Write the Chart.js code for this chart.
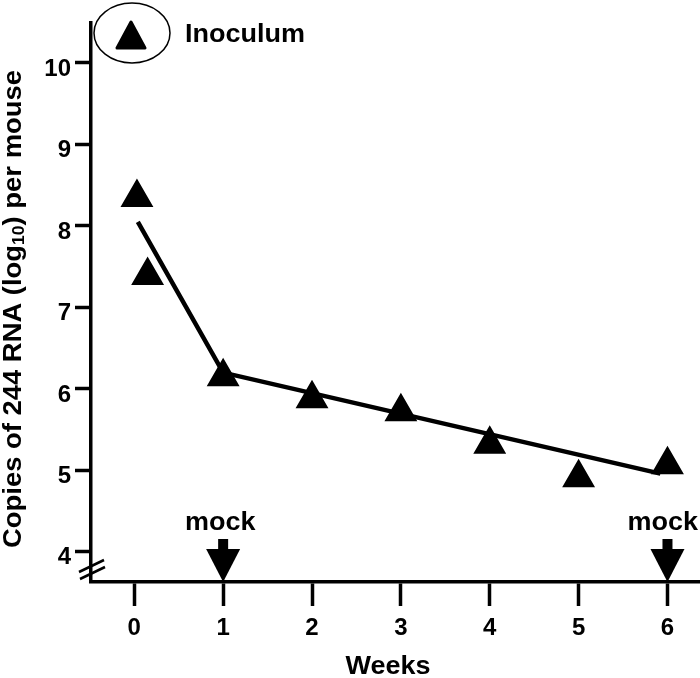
<!DOCTYPE html>
<html>
<head>
<meta charset="utf-8">
<script src="https://cdn.jsdelivr.net/npm/chart.js@4.4.0/dist/chart.umd.min.js"></script>
<style>
  html, body { margin: 0; padding: 0; background: #ffffff; overflow: hidden; }
  #wrap { width: 700px; height: 678px; }
  canvas { display: block; }
</style>
</head>
<body>
<div id="wrap"><canvas id="chart" width="700" height="678"></canvas></div>
<script>
// measured triangles (weeks, log10 copies)
const weeks = [0.03, 0.15, 1, 2, 3, 4, 5, 6];
const copies = [8.35, 7.39, 6.15, 5.88, 5.72, 5.32, 4.91, 5.07];
// fitted line
const fitWeeks = [0.04, 1, 5.92];
const fitCopies = [8.05, 6.2, 4.96];
const mockWeeks = [1, 6];
const xTicks = [0, 1, 2, 3, 4, 5, 6];
const yTicks = [4, 5, 6, 7, 8, 9, 10];

const font = '"Liberation Sans", Arial, sans-serif';
const big = 'bold 25px ' + font;

// text a little wider than the font, like the figure
function wideText(ctx, str, x, y, stretch) {
  ctx.save();
  ctx.translate(x, y);
  ctx.scale(stretch, 1);
  ctx.fillText(str, 0, 0);
  ctx.restore();
}

const extras = {
  id: 'extras',
  afterDraw(chart) {
    const ctx = chart.ctx;
    const x = chart.scales.x, y = chart.scales.y;
    ctx.save();
    ctx.fillStyle = '#000';
    ctx.strokeStyle = '#000';

    // mock arrows
    ctx.font = big;
    ctx.textAlign = 'center';
    ctx.textBaseline = 'middle';
    const half = ctx.measureText('mock').width * 1.08 / 2;
    mockWeeks.forEach(w => {
      const px = x.getPixelForValue(w);
      const bottom = y.bottom;
      const tx = Math.min(px - 3, chart.width - half - 2);
      wideText(ctx, 'mock', tx, 523, 1.08);
      ctx.fillRect(px - 5, 539, 10, 11);
      ctx.beginPath();
      ctx.moveTo(px - 17, 549);
      ctx.lineTo(px + 17, 549);
      ctx.lineTo(px, bottom);
      ctx.closePath();
      ctx.fill();
    });

    // axis break marks
    ctx.lineWidth = 2.5;
    ctx.beginPath();
    ctx.moveTo(79, 572); ctx.lineTo(104, 560);
    ctx.moveTo(80, 579); ctx.lineTo(105, 567);
    ctx.stroke();

    // inoculum legend
    ctx.lineWidth = 1.5;
    ctx.beginPath();
    ctx.ellipse(132, 33, 38, 30, 0, 0, Math.PI * 2);
    ctx.stroke();
    ctx.lineJoin = 'round';
    ctx.lineWidth = 3;
    ctx.beginPath();
    ctx.moveTo(131, 22);
    ctx.lineTo(145, 48);
    ctx.lineTo(117, 48);
    ctx.closePath();
    ctx.fill();
    ctx.stroke();
    ctx.textAlign = 'left';
    wideText(ctx, 'Inoculum', 185, 35, 1.08);

    // x title
    ctx.textAlign = 'center';
    wideText(ctx, 'Weeks', 388, 667, 1.08);

    // y title with subscript
    ctx.translate(14, 309);
    ctx.rotate(-Math.PI / 2);
    const a = 'Copies of 244 RNA (log', s = '10', b = ') per mouse';
    const small = 'bold 16px ' + font;
    ctx.font = big;
    const wa = ctx.measureText(a).width, wb = ctx.measureText(b).width;
    ctx.font = small;
    const ws = ctx.measureText(s).width;
    const k = 478 / (wa + ws + wb);
    ctx.scale(k, 1);
    let sx = -(wa + ws + wb) / 2;
    ctx.textAlign = 'left';
    ctx.font = big;
    ctx.fillText(a, sx, 0);
    ctx.font = small;
    ctx.fillText(s, sx + wa, 6);
    ctx.font = big;
    ctx.fillText(b, sx + wa + ws, 0);
    ctx.restore();
  }
};

new Chart(document.getElementById('chart'), {
  type: 'scatter',
  data: {
    datasets: [
      {
        label: 'fit',
        data: fitWeeks.map((w, i) => ({ x: w, y: fitCopies[i] })),
        showLine: true,
        borderColor: '#000',
        borderWidth: 4.5,
        pointRadius: 0,
        clip: false,
      },
      {
        label: 'RNA',
        data: weeks.map((w, i) => ({ x: w, y: copies[i] })),
        pointStyle: 'triangle',
        pointRadius: 17,
        pointHoverRadius: 17,
        backgroundColor: '#000',
        borderColor: '#000',
        borderWidth: 2,
        clip: false,
      },
    ],
  },
  options: {
    responsive: false,
    animation: false,
    events: [],
    layout: { autoPadding: false, padding: { top: 23, left: 0, right: 0, bottom: 0 } },
    plugins: { legend: { display: false }, tooltip: { enabled: false } },
    scales: {
      x: {
        type: 'linear',
        min: -0.487,
        max: 6.366,
        afterFit: s => { s.height = 96; s.paddingLeft = 0; s.paddingRight = 0; },
        afterBuildTicks: s => { s.ticks = xTicks.map(v => ({ value: v })); },
        border: { display: true, color: '#000', width: 3.5 },
        grid: { drawOnChartArea: false, drawTicks: true, tickLength: 24, tickWidth: 3.5, tickColor: '#000' },
        ticks: { color: '#000', font: { family: font, size: 24, weight: 'bold' }, padding: 8, maxRotation: 0 },
      },
      y: {
        type: 'linear',
        min: 3.63,
        max: 10.49,
        afterFit: s => { s.width = 91; s.paddingTop = 0; s.paddingBottom = 0; },
        afterBuildTicks: s => { s.ticks = yTicks.map(v => ({ value: v })); },
        border: { display: true, color: '#000', width: 3.5 },
        grid: { drawOnChartArea: false, drawTicks: true, tickLength: 16, tickWidth: 3.5, tickColor: '#000' },
        ticks: { color: '#000', font: { family: font, size: 24, weight: 'bold' }, padding: 4, labelOffset: 6 },
      },
    },
  },
  plugins: [extras],
});
</script>
</body>
</html>
